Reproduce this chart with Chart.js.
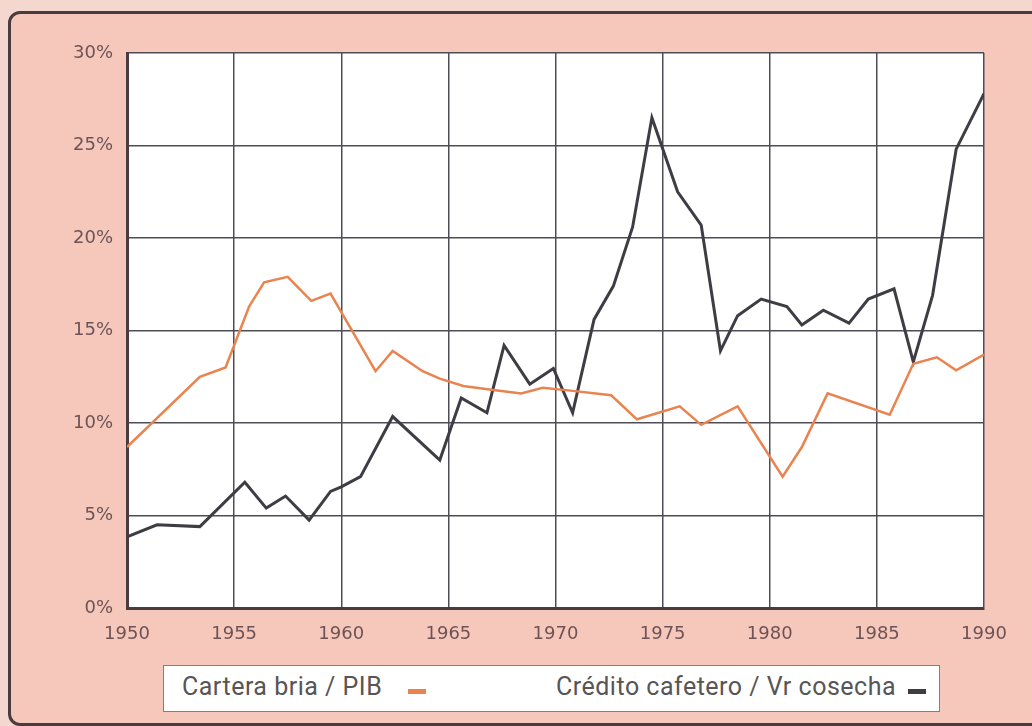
<!DOCTYPE html>
<html>
<head>
<meta charset="utf-8">
<script src="https://cdn.jsdelivr.net/npm/chart.js@4"></script>
<style>
  html, body { margin:0; padding:0; width:1032px; height:726px; overflow:hidden; background:#f4d7cf; }
  #frame { position:absolute; left:8px; top:11px; width:1100px; height:709px; border:3px solid #4a3b3f; border-radius:12px; background:#f5c8bb; }
  #wrap { position:absolute; left:0; top:0; width:1032px; height:726px; }
  #legend { position:absolute; left:163px; top:665px; width:775px; height:45px; background:#fff; border:1px solid #8d7b7b;
            font-family:Roboto, "Liberation Sans", sans-serif; font-size:25px; color:#575555; letter-spacing:0.5px; }
  #legend .item { position:absolute; top:6px; white-space:nowrap; }
  #legend .dash { display:inline-block; width:18px; height:5px; vertical-align:1px; }
</style>
</head>
<body>
<div id="frame"></div>
<div id="wrap"><canvas id="chart"></canvas></div>
<div id="legend"></div>
<script>
// ========================
// DONNEES
// ========================
const ANIOS_TICKS = [1950, 1955, 1960, 1965, 1970, 1975, 1980, 1985, 1990];

// Cartera bria / PIB (%)
const carteraX = [1950.0, 1953.4, 1954.6, 1955.7, 1956.4, 1957.5, 1958.6, 1959.5, 1961.6, 1962.4, 1963.8, 1964.6,
                  1965.7, 1967.0, 1968.4, 1969.4, 1970.7, 1972.6, 1973.8, 1975.8, 1976.8, 1978.5, 1980.6, 1981.5,
                  1982.7, 1985.6, 1986.7, 1987.8, 1988.7, 1990.0];
const carteraY = [8.7, 12.5, 13.0, 16.3, 17.6, 17.9, 16.6, 17.0, 12.8, 13.9, 12.8, 12.4,
                  12.0, 11.8, 11.6, 11.9, 11.75, 11.5, 10.2, 10.9, 9.9, 10.9, 7.1, 8.7,
                  11.6, 10.45, 13.2, 13.55, 12.85, 13.7];

// Crédito cafetero / Vr cosecha (%)
const creditoX = [1950.0, 1951.4, 1953.4, 1955.5, 1956.5, 1957.4, 1958.5, 1959.5, 1960.0, 1960.9, 1962.4, 1964.6,
                  1965.6, 1966.8, 1967.6, 1968.8, 1969.9, 1970.8, 1971.8, 1972.7, 1973.6, 1974.5, 1975.7, 1976.8,
                  1977.7, 1978.5, 1979.6, 1980.8, 1981.5, 1982.5, 1983.7, 1984.6, 1985.8, 1986.7, 1987.6, 1988.7, 1990.0];
const creditoY = [3.85, 4.5, 4.4, 6.8, 5.4, 6.05, 4.75, 6.3, 6.55, 7.1, 10.35, 8.0,
                  11.35, 10.55, 14.2, 12.1, 12.95, 10.55, 15.6, 17.4, 20.6, 26.5, 22.5, 20.7,
                  13.9, 15.8, 16.7, 16.3, 15.3, 16.1, 15.4, 16.7, 17.25, 13.3, 16.9, 24.8, 27.8];

const SERIES = [
  { label:'Cartera bria / PIB', xs:carteraX, ys:carteraY, color:'#e9834f', width:2.5 },
  { label:'Crédito cafetero / Vr cosecha', xs:creditoX, ys:creditoY, color:'#3f3c44', width:3 }
];

// ========================
// GRAFICO
// ========================
const fondoBlanco = {
  id:'fondoBlanco',
  beforeDraw(chart) {
    const { ctx, chartArea:a } = chart;
    ctx.save(); ctx.fillStyle = '#fff'; ctx.fillRect(a.left, a.top, a.right - a.left, a.bottom - a.top); ctx.restore();
  }
};

const tickFont = { family:'"DejaVu Sans", Lato, sans-serif', size:18 };

new Chart(document.getElementById('chart'), {
  type:'line',
  data:{
    datasets: SERIES.map(s => ({
      label:s.label,
      data:s.xs.map((x, i) => ({ x, y:s.ys[i] })),
      borderColor:s.color, borderWidth:s.width, pointRadius:0, tension:0, fill:false
    }))
  },
  options:{
    responsive:true, maintainAspectRatio:false, animation:false,
    layout:{ padding:{ left:0, top:53, right:48, bottom:73 } },
    plugins:{ legend:{ display:false }, tooltip:{ enabled:false } },
    scales:{
      x:{
        type:'linear', min:1950, max:1990,
        afterBuildTicks: sc => { sc.ticks = ANIOS_TICKS.map(v => ({ value:v })); },
        afterFit: sc => { sc.height = 45; },
        grid:{ color:'#4e4d57', lineWidth:1.5, drawTicks:false },
        border:{ color:'#4a3b3f', width:3 },
        ticks:{ callback: v => String(v), font:tickFont, color:'#6e5356', padding:16, maxRotation:0 }
      },
      y:{
        min:0, max:30,
        ticks:{ stepSize:5, callback: v => v + '%', font:tickFont, color:'#6e5356', padding:14 },
        afterFit: sc => { sc.width = 127; },
        grid:{ color:'#4e4d57', lineWidth:1.5, drawTicks:false },
        border:{ color:'#4a3b3f', width:3 }
      }
    }
  },
  plugins:[fondoBlanco]
});

// ========================
// LEYENDA
// ========================
const leyenda = document.getElementById('legend');
const posLeyenda = [18, 392];
const gapGuion = [26, 12];
SERIES.forEach((s, i) => {
  leyenda.innerHTML += `<span class="item" style="left:${posLeyenda[i]}px">${s.label}<span class="dash" style="background:${s.color};margin-left:${gapGuion[i]}px"></span></span>`;
});
</script>
</body>
</html>
